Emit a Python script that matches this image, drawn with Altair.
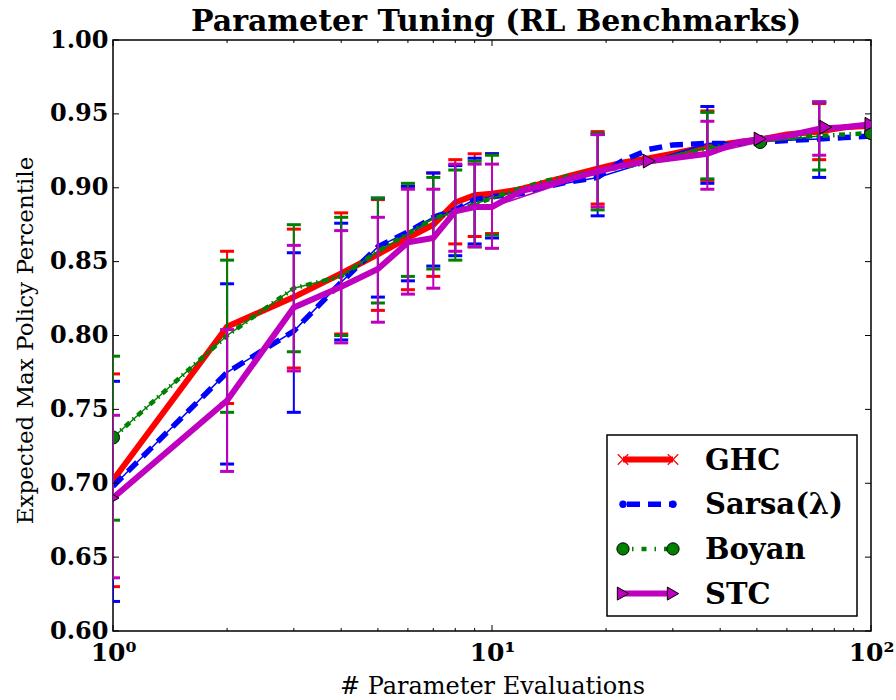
import altair as alt
import pandas as pd

SERIES = ["GHC", "Sarsa(λ)", "Boyan", "STC"]
COLORS = ["#ff0000", "#0000ff", "#008000", "#bf00bf"]

# dense curves
X_LINE = [1, 2, 3, 4, 5, 6, 7, 8, 9, 10, 12, 14, 16, 19, 22, 26, 30, 37, 45, 52, 60, 73, 85, 100]
GHC_LINE = [0.702, 0.806, 0.826, 0.842, 0.855, 0.866, 0.875, 0.890, 0.895, 0.896, 0.899, 0.904,
            0.908, 0.913, 0.917, 0.920, 0.923, 0.928, 0.931, 0.933, 0.936, 0.938, 0.941, 0.942]
SARSA_LINE = [0.698, 0.775, 0.803, 0.836, 0.860, 0.870, 0.880, 0.885, 0.892, 0.894, 0.896, 0.901,
              0.904, 0.907, 0.918, 0.926, 0.929, 0.930, 0.930, 0.931, 0.932, 0.933, 0.934, 0.935]
BOYAN_LINE = [0.731, 0.800, 0.832, 0.840, 0.857, 0.869, 0.879, 0.884, 0.889, 0.893, 0.900, 0.905,
              0.908, 0.911, 0.914, 0.917, 0.921, 0.927, 0.930, 0.932, 0.934, 0.935, 0.936, 0.937]
STC_LINE = [0.690, 0.756, 0.819, 0.833, 0.845, 0.863, 0.866, 0.884, 0.887, 0.887, 0.898, 0.902,
            0.906, 0.911, 0.915, 0.918, 0.920, 0.923, 0.931, 0.933, 0.935, 0.940, 0.941, 0.943]

# error bars
X_ERR = [1, 2, 3, 4, 5, 6, 7, 8, 9, 10, 19, 37, 73]
GHC_MID = [0.702, 0.806, 0.826, 0.842, 0.855, 0.866, 0.875, 0.890, 0.895, 0.896, 0.913, 0.928, 0.938]
GHC_LO = [0.630, 0.754, 0.778, 0.801, 0.817, 0.831, 0.840, 0.862, 0.867, 0.869, 0.889, 0.905, 0.919]
GHC_HI = [0.774, 0.857, 0.872, 0.883, 0.892, 0.901, 0.910, 0.919, 0.923, 0.923, 0.938, 0.952, 0.957]
SARSA_MID = [0.698, 0.775, 0.803, 0.836, 0.860, 0.870, 0.880, 0.885, 0.892, 0.894, 0.907, 0.930, 0.933]
SARSA_LO = [0.620, 0.713, 0.748, 0.797, 0.826, 0.837, 0.847, 0.854, 0.862, 0.866, 0.881, 0.903, 0.907]
SARSA_HI = [0.769, 0.835, 0.856, 0.876, 0.893, 0.901, 0.910, 0.915, 0.920, 0.923, 0.936, 0.955, 0.958]
BOYAN_MID = [0.731, 0.800, 0.832, 0.840, 0.857, 0.869, 0.879, 0.884, 0.889, 0.893, 0.911, 0.927, 0.935]
BOYAN_LO = [0.675, 0.748, 0.789, 0.800, 0.822, 0.840, 0.845, 0.851, 0.860, 0.868, 0.885, 0.906, 0.912]
BOYAN_HI = [0.786, 0.851, 0.875, 0.880, 0.893, 0.903, 0.907, 0.912, 0.918, 0.922, 0.937, 0.951, 0.958]
STC_MID = [0.690, 0.756, 0.819, 0.833, 0.845, 0.863, 0.866, 0.884, 0.887, 0.887, 0.911, 0.923, 0.940]
STC_LO = [0.636, 0.708, 0.776, 0.795, 0.809, 0.828, 0.832, 0.857, 0.860, 0.859, 0.887, 0.899, 0.922]
STC_HI = [0.746, 0.804, 0.861, 0.871, 0.880, 0.899, 0.899, 0.916, 0.916, 0.916, 0.936, 0.945, 0.958]

# big markers
BOYAN_MARK_X = [1, 51, 100]
BOYAN_MARK_Y = [0.731, 0.931, 0.937]
STC_MARK_X = [1, 26, 51, 76, 100]
STC_MARK_Y = [0.690, 0.918, 0.933, 0.941, 0.943]

# axis ticks
Y_TICKS = [0.60, 0.65, 0.70, 0.75, 0.80, 0.85, 0.90, 0.95, 1.00]
X_MAJOR = [1, 10, 100]
X_MINOR = [2, 3, 4, 5, 6, 7, 8, 9, 20, 30, 40, 50, 60, 70, 80, 90]

TITLE = "Parameter Tuning (RL Benchmarks)"
X_TITLE = "# Parameter Evaluations"
Y_TITLE = "Expected Max Policy Percentile"

W, H = 758, 591
FONT = "DejaVu Serif"

xs = alt.Scale(type="log", domain=[1, 100], nice=False)
ys = alt.Scale(domain=[0.6, 1.0], nice=False, zero=False)

x_axis = alt.Axis(values=X_MAJOR, labelExpr="datum.value == 1 ? '10⁰' : (datum.value == 10 ? '10¹' : '10²')",
                  ticks=False, domain=False, grid=False, labelFont=FONT, labelFontWeight="bold",
                  labelFontSize=25, labelPadding=9, labelFlush=False, labelOverlap=False,
                  labelColor="black", title=X_TITLE, titleFont=FONT, titleFontWeight="normal",
                  titleFontSize=24, titleColor="black", titleY=62, titleBaseline="alphabetic")
y_axis = alt.Axis(values=Y_TICKS, format=".2f", ticks=False, domain=False, grid=False,
                  labelFont=FONT, labelFontWeight="bold", labelFontSize=24, labelPadding=5,
                  labelColor="black", labelFlush=False, labelOverlap=False,
                  title=Y_TITLE, titleFont=FONT, titleFontWeight="normal", titleFontSize=23,
                  titleColor="black", titleX=-88, titleY=300, titleAngle=-90,
                  titleAlign="center", titleBaseline="middle")


def xe(f):
    return alt.X(f"{f}:Q", scale=xs, axis=x_axis)


def ye(f):
    return alt.Y(f"{f}:Q", scale=ys, axis=y_axis)


lines = {"GHC": GHC_LINE, "Sarsa(λ)": SARSA_LINE, "Boyan": BOYAN_LINE, "STC": STC_LINE}
errs = {"GHC": (GHC_MID, GHC_LO, GHC_HI), "Sarsa(λ)": (SARSA_MID, SARSA_LO, SARSA_HI),
        "Boyan": (BOYAN_MID, BOYAN_LO, BOYAN_HI), "STC": (STC_MID, STC_LO, STC_HI)}

layers = []
for name, color in zip(SERIES, COLORS):
    mid, lo, hi = errs[name]
    edf = pd.DataFrame({"x": X_ERR, "mid": mid, "lo": lo, "hi": hi})
    ldf = pd.DataFrame({"x": X_LINE, "y": lines[name]})
    # error bars
    layers.append(alt.Chart(edf).mark_rule(color=color, strokeWidth=2, clip=True).encode(
        x=xe("x"), y=ye("lo"), y2="hi"))
    for f in ("lo", "hi"):
        layers.append(alt.Chart(edf).mark_tick(color=color, orient="horizontal", size=14,
                                               thickness=3, clip=True, opacity=1).encode(
            x=xe("x"), y=ye(f)))
    # thin errorbar line
    layers.append(alt.Chart(edf).mark_line(color=color, strokeWidth=1.5, clip=True).encode(
        x=xe("x"), y=ye("mid")))
    # thick line
    if name == "GHC":
        mk = alt.Chart(ldf).mark_line(color=color, strokeWidth=6, clip=True)
    elif name == "Sarsa(λ)":
        mk = alt.Chart(ldf).mark_line(color=color, strokeWidth=5.5, strokeDash=[13, 8], clip=True)
    elif name == "Boyan":
        mk = alt.Chart(ldf).mark_line(color=color, strokeWidth=4.5, strokeDash=[6, 4.5, 1.5, 4.5], clip=True)
    else:
        mk = alt.Chart(ldf).mark_line(color=color, strokeWidth=6, clip=True)
    layers.append(mk.encode(x=xe("x"), y=ye("y")))
    if name == "Boyan":
        bdf = pd.DataFrame({"x": BOYAN_MARK_X, "y": BOYAN_MARK_Y})
        layers.append(alt.Chart(bdf).mark_point(shape="circle", filled=True, fill=color, stroke="black",
                                                strokeWidth=1, size=170, opacity=1, clip=True).encode(
            x=xe("x"), y=ye("y")))
    if name == "STC":
        sdf = pd.DataFrame({"x": STC_MARK_X, "y": STC_MARK_Y})
        layers.append(alt.Chart(sdf).mark_point(shape="triangle-right", filled=True, fill=color,
                                                stroke="black", strokeWidth=1, size=190, opacity=1,
                                                clip=True).encode(x=xe("x"), y=ye("y")))

# inward ticks (matplotlib style)
ytdf = pd.DataFrame({"v": Y_TICKS})
layers.append(alt.Chart(ytdf).mark_rule(color="black", strokeWidth=1).encode(
    y=ye("v"), x=alt.value(0), x2=alt.value(6)))
layers.append(alt.Chart(ytdf).mark_rule(color="black", strokeWidth=1).encode(
    y=ye("v"), x=alt.value(W - 6), x2=alt.value(W)))
xmdf = pd.DataFrame({"v": X_MAJOR})
xndf = pd.DataFrame({"v": X_MINOR})
for d, ln in ((xmdf, 6), (xndf, 3)):
    layers.append(alt.Chart(d).mark_rule(color="black", strokeWidth=1).encode(
        x=xe("v"), y=alt.value(H - ln), y2=alt.value(H)))
    layers.append(alt.Chart(d).mark_rule(color="black", strokeWidth=1).encode(
        x=xe("v"), y=alt.value(0), y2=alt.value(ln)))

# legend
LX0, LX1, LY0, LY1 = 494, 744, 395, 576
one = pd.DataFrame({"k": [0]})
layers.append(alt.Chart(one).mark_rect(fill="white", stroke="black", strokeWidth=1.5).encode(
    x=alt.value(LX0), x2=alt.value(LX1), y=alt.value(LY0), y2=alt.value(LY1)))
SX0, SX1, TX = 510, 560, 592
for i, (name, color) in enumerate(zip(SERIES, COLORS)):
    yy = 419.5 + 44.7 * i
    nd = pd.DataFrame({"name": [name]})
    if name == "Sarsa(λ)":
        ln = alt.Chart(nd).mark_rule(color=color, strokeWidth=5.5, strokeDash=[13, 8], strokeDashOffset=-4)
    elif name == "Boyan":
        ln = alt.Chart(nd).mark_rule(color=color, strokeWidth=4.5, strokeDash=[1.5, 8, 5, 8], strokeDashOffset=-9)
    else:
        ln = alt.Chart(nd).mark_rule(color=color, strokeWidth=6)
    layers.append(ln.encode(x=alt.value(SX0), x2=alt.value(SX1), y=alt.value(yy)))
    for px in (SX0, SX1):
        if name == "GHC":
            m = alt.Chart(nd).mark_point(shape="M-1,-1L1,1M-1,1L1,-1", filled=False, stroke=color,
                                         strokeWidth=1.2, size=110, opacity=1)
        elif name == "Sarsa(λ)":
            m = alt.Chart(nd).mark_point(shape="circle", filled=True, fill=color, size=55, opacity=1)
        elif name == "Boyan":
            m = alt.Chart(nd).mark_point(shape="circle", filled=True, fill=color, stroke="black",
                                         strokeWidth=1, size=150, opacity=1)
        else:
            m = alt.Chart(nd).mark_point(shape="triangle-right", filled=True, fill=color, stroke="black",
                                         strokeWidth=1, size=170, opacity=1)
        layers.append(m.encode(x=alt.value(px), y=alt.value(yy)))
    layers.append(alt.Chart(nd).mark_text(font=FONT, fontWeight="bold", fontSize=29, align="left",
                                          baseline="middle", color="black").encode(
        x=alt.value(TX), y=alt.value(yy + 1), text="name:N"))

# chart title as text placed above the plot area
tdf = pd.DataFrame({"t": [TITLE]})
layers.append(alt.Chart(tdf).mark_text(font=FONT, fontWeight="bold", fontSize=30, align="center",
                                       baseline="alphabetic", color="black").encode(
    x=alt.value(W / 2 + 4), y=alt.value(-9), text="t:N"))

chart = alt.layer(*layers).properties(
    width=W, height=H,
    autosize=alt.AutoSizeParams(type="none"),
    padding={"left": 113, "top": 40, "right": 25, "bottom": 69},
    background="white",
).configure_view(stroke="black", strokeWidth=1.5)

chart.save("out.html", embed_options={"renderer": "svg", "actions": False})
